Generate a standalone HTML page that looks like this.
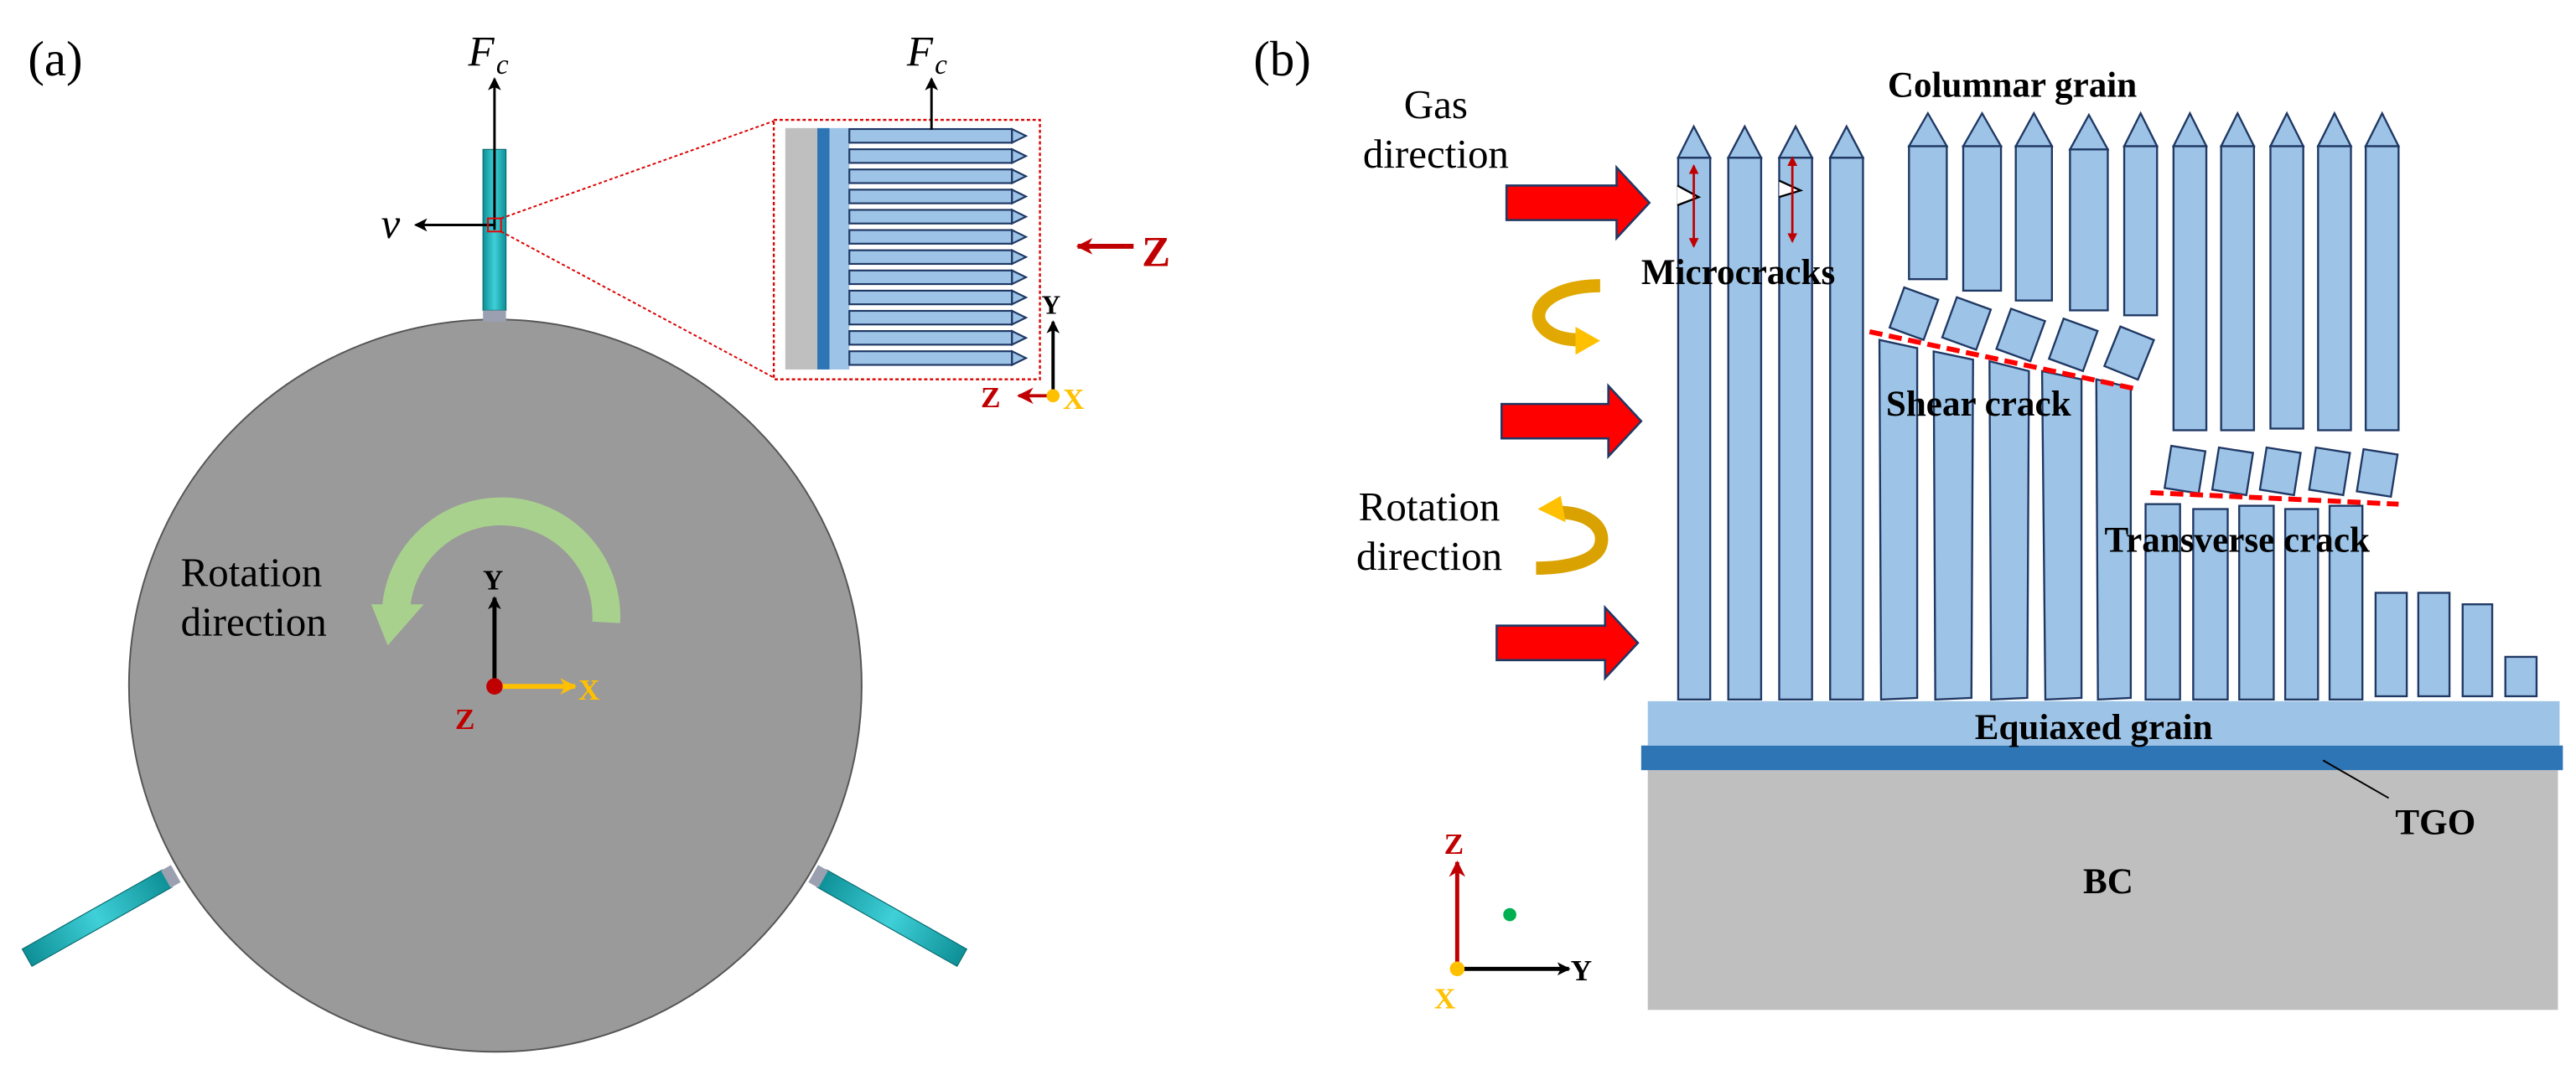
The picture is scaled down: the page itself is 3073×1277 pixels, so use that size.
<!DOCTYPE html>
<html><head><meta charset="utf-8"><style>
html,body{margin:0;padding:0;background:#fff;}
svg{display:block;}
text{font-family:"Liberation Serif",serif;}
</style></head><body>
<svg width="3073" height="1277" viewBox="0 0 1568 651.6" preserveAspectRatio="none" xmlns="http://www.w3.org/2000/svg">
<defs>
<marker id="ab" markerWidth="8" markerHeight="8" refX="7" refY="4" orient="auto" markerUnits="userSpaceOnUse"><path d="M0,0 L8,4 L0,8 L2,4Z" fill="#000"/></marker>
<marker id="ar" markerWidth="10" markerHeight="10" refX="9" refY="5" orient="auto" markerUnits="userSpaceOnUse"><path d="M0,0 L10,5 L0,10 L3,5Z" fill="#c00000"/></marker>
<marker id="ay" markerWidth="10" markerHeight="10" refX="9" refY="5" orient="auto" markerUnits="userSpaceOnUse"><path d="M0,0 L10,5 L0,10 L3,5Z" fill="#ffc000"/></marker>
<marker id="am" markerWidth="6" markerHeight="6" refX="5" refY="3" orient="auto" markerUnits="userSpaceOnUse"><path d="M0,0 L6,3 L0,6 Z" fill="#c00000"/></marker>
<linearGradient id="cy" x1="0" y1="0" x2="1" y2="0"><stop offset="0" stop-color="#0e8f96"/><stop offset="0.5" stop-color="#3fd0d8"/><stop offset="1" stop-color="#0e8f96"/></linearGradient>
</defs>

<!-- ===== Panel (a) ===== -->
<text x="17" y="46" font-size="30">(a)</text>
<circle cx="301.5" cy="417.5" r="223" fill="#9a9a9a" stroke="#555" stroke-width="1"/>
<!-- top rod -->
<rect x="294" y="91" width="14" height="98" fill="url(#cy)" stroke="#0a6d72" stroke-width="0.6"/>
<rect x="294" y="189" width="14" height="7" fill="#9aa0b0"/>
<!-- bottom rods -->
<g transform="translate(107,532) rotate(150.5)">
<rect x="6" y="-6" width="98" height="12" fill="url(#cy)" stroke="#0a6d72" stroke-width="0.6"/>
<rect x="0" y="-6" width="7" height="12" fill="#9aa0b0"/>
</g>
<g transform="translate(495,532) rotate(29.5)">
<rect x="6" y="-6" width="98" height="12" fill="url(#cy)" stroke="#0a6d72" stroke-width="0.6"/>
<rect x="0" y="-6" width="7" height="12" fill="#9aa0b0"/>
</g>
<!-- Fc arrow -->
<line x1="301" y1="140" x2="301" y2="48" stroke="#000" stroke-width="1.5" marker-end="url(#ab)"/>
<text x="285" y="40" font-size="26" font-style="italic">F</text>
<text x="302" y="45" font-size="17" font-style="italic">c</text>
<!-- v arrow -->
<line x1="301" y1="137" x2="253" y2="137" stroke="#000" stroke-width="1.5" marker-end="url(#ab)"/>
<text x="232" y="145" font-size="26" font-style="italic">v</text>
<rect x="297" y="133" width="8" height="8" fill="none" stroke="#e00" stroke-width="1"/>
<line x1="305" y1="133" x2="473" y2="73" stroke="#d00" stroke-width="1" stroke-dasharray="2,1.5"/>
<line x1="305" y1="141" x2="473" y2="231" stroke="#d00" stroke-width="1" stroke-dasharray="2,1.5"/>
<!-- inset -->
<rect x="471" y="73" width="162" height="158" fill="#fff" stroke="#d00" stroke-width="1.2" stroke-dasharray="2,1.5"/>
<rect x="478" y="78" width="20" height="147" fill="#bfbfbf"/>
<rect x="497.5" y="78" width="7.5" height="147" fill="#2e75b6"/>
<rect x="505" y="78" width="12" height="147" fill="#9dc3e6"/>
<g fill="#9dc3e6" stroke="#1f3864" stroke-width="1.1">
<rect x="517" y="78.6" width="99" height="8.3"/><path d="M616,78.6 L624.5,82.75 L616,86.9Z"/>
<rect x="517" y="90.9" width="99" height="8.3"/><path d="M616,90.9 L624.5,95.05 L616,99.2Z"/>
<rect x="517" y="103.2" width="99" height="8.3"/><path d="M616,103.2 L624.5,107.35 L616,111.5Z"/>
<rect x="517" y="115.5" width="99" height="8.3"/><path d="M616,115.5 L624.5,119.65 L616,123.8Z"/>
<rect x="517" y="127.8" width="99" height="8.3"/><path d="M616,127.8 L624.5,131.95 L616,136.1Z"/>
<rect x="517" y="140.1" width="99" height="8.3"/><path d="M616,140.1 L624.5,144.25 L616,148.4Z"/>
<rect x="517" y="152.4" width="99" height="8.3"/><path d="M616,152.4 L624.5,156.55 L616,160.7Z"/>
<rect x="517" y="164.7" width="99" height="8.3"/><path d="M616,164.7 L624.5,168.85 L616,173Z"/>
<rect x="517" y="177" width="99" height="8.3"/><path d="M616,177 L624.5,181.15 L616,185.3Z"/>
<rect x="517" y="189.3" width="99" height="8.3"/><path d="M616,189.3 L624.5,193.45 L616,197.6Z"/>
<rect x="517" y="201.6" width="99" height="8.3"/><path d="M616,201.6 L624.5,205.75 L616,209.9Z"/>
<rect x="517" y="213.9" width="99" height="8.3"/><path d="M616,213.9 L624.5,218.05 L616,222.2Z"/>
</g>
<line x1="567" y1="79" x2="567" y2="48" stroke="#000" stroke-width="1.5" marker-end="url(#ab)"/>
<text x="552" y="40" font-size="26" font-style="italic">F</text>
<text x="569" y="45" font-size="17" font-style="italic">c</text>
<line x1="690" y1="150" x2="656" y2="150" stroke="#c00000" stroke-width="3" marker-end="url(#ar)"/>
<text x="695" y="162" font-size="26" font-weight="bold" fill="#c00000">Z</text>
<line x1="641" y1="241" x2="641" y2="196" stroke="#000" stroke-width="2" marker-end="url(#ab)"/>
<text x="634" y="191" font-size="16" font-weight="bold">Y</text>
<line x1="641" y1="241" x2="620" y2="241" stroke="#c00000" stroke-width="2" marker-end="url(#ar)"/>
<text x="597" y="248" font-size="18" font-weight="bold" fill="#c00000">Z</text>
<circle cx="641" cy="241" r="4" fill="#ffc000"/>
<text x="647" y="249" font-size="18" font-weight="bold" fill="#ffc000">X</text>
<!-- green rotation arrow -->
<path d="M369,379 A64,64 0 1 0 241,372" fill="none" stroke="#a9d18e" stroke-width="17"/>
<path d="M226,368 L258,368 L236,393Z" fill="#a9d18e"/>
<text x="110" y="357" font-size="25">Rotation</text>
<text x="110" y="387" font-size="25">direction</text>
<!-- axes -->
<line x1="301" y1="418" x2="301" y2="364" stroke="#000" stroke-width="2.5" marker-end="url(#ab)"/>
<text x="294" y="359" font-size="17" font-weight="bold">Y</text>
<line x1="301" y1="418" x2="350" y2="418" stroke="#ffc000" stroke-width="3" marker-end="url(#ay)"/>
<text x="352" y="426" font-size="18" font-weight="bold" fill="#ffc000">X</text>
<circle cx="301" cy="418" r="5" fill="#c00000"/>
<text x="277" y="444" font-size="18" font-weight="bold" fill="#c00000">Z</text>

<!-- ===== Panel (b) ===== -->
<text x="763" y="46" font-size="30">(b)</text>
<text x="874" y="72" font-size="25" text-anchor="middle">Gas</text>
<text x="874" y="102" font-size="25" text-anchor="middle">direction</text>
<text x="870" y="317" font-size="25" text-anchor="middle">Rotation</text>
<text x="870" y="347" font-size="25" text-anchor="middle">direction</text>
<!-- red arrows -->
<g fill="#ff0000" stroke="#1f3864" stroke-width="1.3">
<path d="M917,113 L984,113 L984,102 L1004,123.5 L984,145 L984,134 L917,134Z"/>
<path d="M914,246 L979,246 L979,235 L999,256.5 L979,278 L979,267 L914,267Z"/>
<path d="M911,381 L977,381 L977,370 L997,391.5 L977,413 L977,402 L911,402Z"/>
</g>
<!-- yellow curved arrows -->
<path d="M974,174 C942,174 930,190 940,200 C946,206 955,207 962,207" fill="none" stroke="#e0a800" stroke-width="8"/>
<path d="M959,199 L974,207.5 L959,216Z" fill="#ffc000"/>
<path d="M948,312 C968,312 978,322 974,333 C970,343 950,346 935,346" fill="none" stroke="#d9a200" stroke-width="8"/>
<path d="M936,310 L950,302 L953,318Z" fill="#ffc000"/>
<!-- substrate layers -->
<rect x="1003" y="469" width="554" height="146" fill="#bfbfbf"/>
<rect x="999" y="454" width="561" height="15" fill="#2e75b6"/>
<rect x="1003" y="427" width="555" height="27" fill="#9dc3e6"/>
<g fill="#9dc3e6" stroke="#1f3864" stroke-width="1.2">
<!-- group 1 -->
<rect x="1021.5" y="96" width="19.5" height="330"/><path d="M1021.5,96 L1031,77 L1041,96Z"/>
<rect x="1052" y="96" width="20" height="330"/><path d="M1052,96 L1062,77 L1072,96Z"/>
<rect x="1083" y="96" width="20" height="330"/><path d="M1083,96 L1093,77 L1103,96Z"/>
<rect x="1114" y="96" width="20" height="330"/><path d="M1114,96 L1124,77 L1134,96Z"/>
<!-- group 2 top -->
<rect x="1162" y="89" width="23" height="81"/><path d="M1162,89 L1173.5,69 L1185,89Z"/>
<rect x="1195" y="89" width="23" height="88"/><path d="M1195,89 L1206.5,69 L1218,89Z"/>
<rect x="1227" y="89" width="22" height="94"/><path d="M1227,89 L1238,69 L1249,89Z"/>
<rect x="1260" y="91" width="23" height="98"/><path d="M1260,91 L1271.5,70 L1283,91Z"/>
<rect x="1293" y="89" width="20" height="103"/><path d="M1293,89 L1303,69 L1313,89Z"/>
<!-- group 2 blocks -->
<rect x="-11" y="-13" width="22" height="26" transform="translate(1165,191) rotate(20)"/>
<rect x="-11" y="-13" width="22" height="26" transform="translate(1197,197) rotate(20)"/>
<rect x="-11" y="-13" width="22" height="26" transform="translate(1230,204) rotate(20)"/>
<rect x="-11" y="-13" width="22" height="26" transform="translate(1262,210) rotate(20)"/>
<rect x="-11" y="-13" width="22" height="26" transform="translate(1296,215) rotate(22)"/>
<!-- group 2 lower -->
<path d="M1144,207 L1167,212 L1167,425 L1145,426Z"/>
<path d="M1177,214 L1201,219 L1200,425 L1178,426Z"/>
<path d="M1211,220 L1235,226 L1234,425 L1212,426Z"/>
<path d="M1243,226 L1267,231 L1267,425 L1245,426Z"/>
<path d="M1276,231 L1297,236 L1297,425 L1277,426Z"/>
<!-- group 3 top -->
<rect x="1323" y="89" width="20" height="173"/><path d="M1323,89 L1333,69 L1343,89Z"/>
<rect x="1352" y="89" width="20" height="173"/><path d="M1352,89 L1362,69 L1372,89Z"/>
<rect x="1382" y="89" width="20" height="172"/><path d="M1382,89 L1392,69 L1402,89Z"/>
<rect x="1411" y="89" width="20" height="173"/><path d="M1411,89 L1421,69 L1431,89Z"/>
<rect x="1440" y="89" width="20" height="173"/><path d="M1440,89 L1450,69 L1460,89Z"/>
<!-- group 3 blocks -->
<rect x="-10.5" y="-13" width="21" height="26" transform="translate(1330,286) rotate(9)"/>
<rect x="-10.5" y="-13" width="21" height="26" transform="translate(1359,287) rotate(9)"/>
<rect x="-10.5" y="-13" width="21" height="26" transform="translate(1388,287) rotate(9)"/>
<rect x="-10.5" y="-13" width="21" height="26" transform="translate(1418,287) rotate(9)"/>
<rect x="-10.5" y="-13" width="21" height="26" transform="translate(1447,288) rotate(9)"/>
<!-- group 3 lower -->
<rect x="1306" y="307" width="21" height="119"/>
<rect x="1335" y="310" width="21" height="116"/>
<rect x="1363" y="308" width="21" height="118"/>
<rect x="1391" y="310" width="20" height="116"/>
<rect x="1418" y="308" width="20" height="118"/>
<!-- small -->
<rect x="1446" y="361" width="19" height="63"/>
<rect x="1472" y="361" width="19" height="63"/>
<rect x="1499" y="368" width="18" height="56"/>
<rect x="1525" y="400" width="19" height="24"/>
</g>
<!-- microcracks -->
<path d="M1021,113 L1034,120 L1021,125" fill="#fff" stroke="#000" stroke-width="1.2"/>
<path d="M1083,110 L1096,116 L1083,120" fill="#fff" stroke="#000" stroke-width="1.2"/>
<line x1="1031" y1="120" x2="1031" y2="101" stroke="#c00000" stroke-width="1.4" marker-end="url(#am)"/>
<line x1="1031" y1="120" x2="1031" y2="150" stroke="#c00000" stroke-width="1.4" marker-end="url(#am)"/>
<line x1="1091" y1="115" x2="1091" y2="96" stroke="#c00000" stroke-width="1.4" marker-end="url(#am)"/>
<line x1="1091" y1="115" x2="1091" y2="147" stroke="#c00000" stroke-width="1.4" marker-end="url(#am)"/>
<!-- dashed cracks -->
<line x1="1138" y1="202" x2="1301" y2="237" stroke="#ff0000" stroke-width="3" stroke-dasharray="8,4"/>
<line x1="1309" y1="300" x2="1460" y2="307" stroke="#ff0000" stroke-width="3" stroke-dasharray="8,4"/>
<!-- labels -->
<g font-weight="bold" font-size="22">
<text x="1149" y="59">Columnar grain</text>
<text x="999" y="173">Microcracks</text>
<text x="1148" y="253">Shear crack</text>
<text x="1281" y="336">Transverse crack</text>
<text x="1202" y="450">Equiaxed grain</text>
<text x="1458" y="508">TGO</text>
<text x="1268" y="544">BC</text>
</g>
<line x1="1414" y1="463" x2="1454" y2="486" stroke="#000" stroke-width="1"/>
<!-- axes b -->
<line x1="887" y1="590" x2="887" y2="525" stroke="#c00000" stroke-width="2.5" marker-end="url(#ar)"/>
<text x="879" y="520" font-size="18" font-weight="bold" fill="#c00000">Z</text>
<line x1="887" y1="590" x2="955" y2="590" stroke="#000" stroke-width="2.5" marker-end="url(#ab)"/>
<text x="956" y="597" font-size="18" font-weight="bold">Y</text>
<circle cx="887" cy="590" r="4.5" fill="#ffc000"/>
<text x="873" y="614" font-size="18" font-weight="bold" fill="#ffc000">X</text>
<circle cx="919" cy="557" r="4" fill="#00b050"/>
</svg>
</body></html>
